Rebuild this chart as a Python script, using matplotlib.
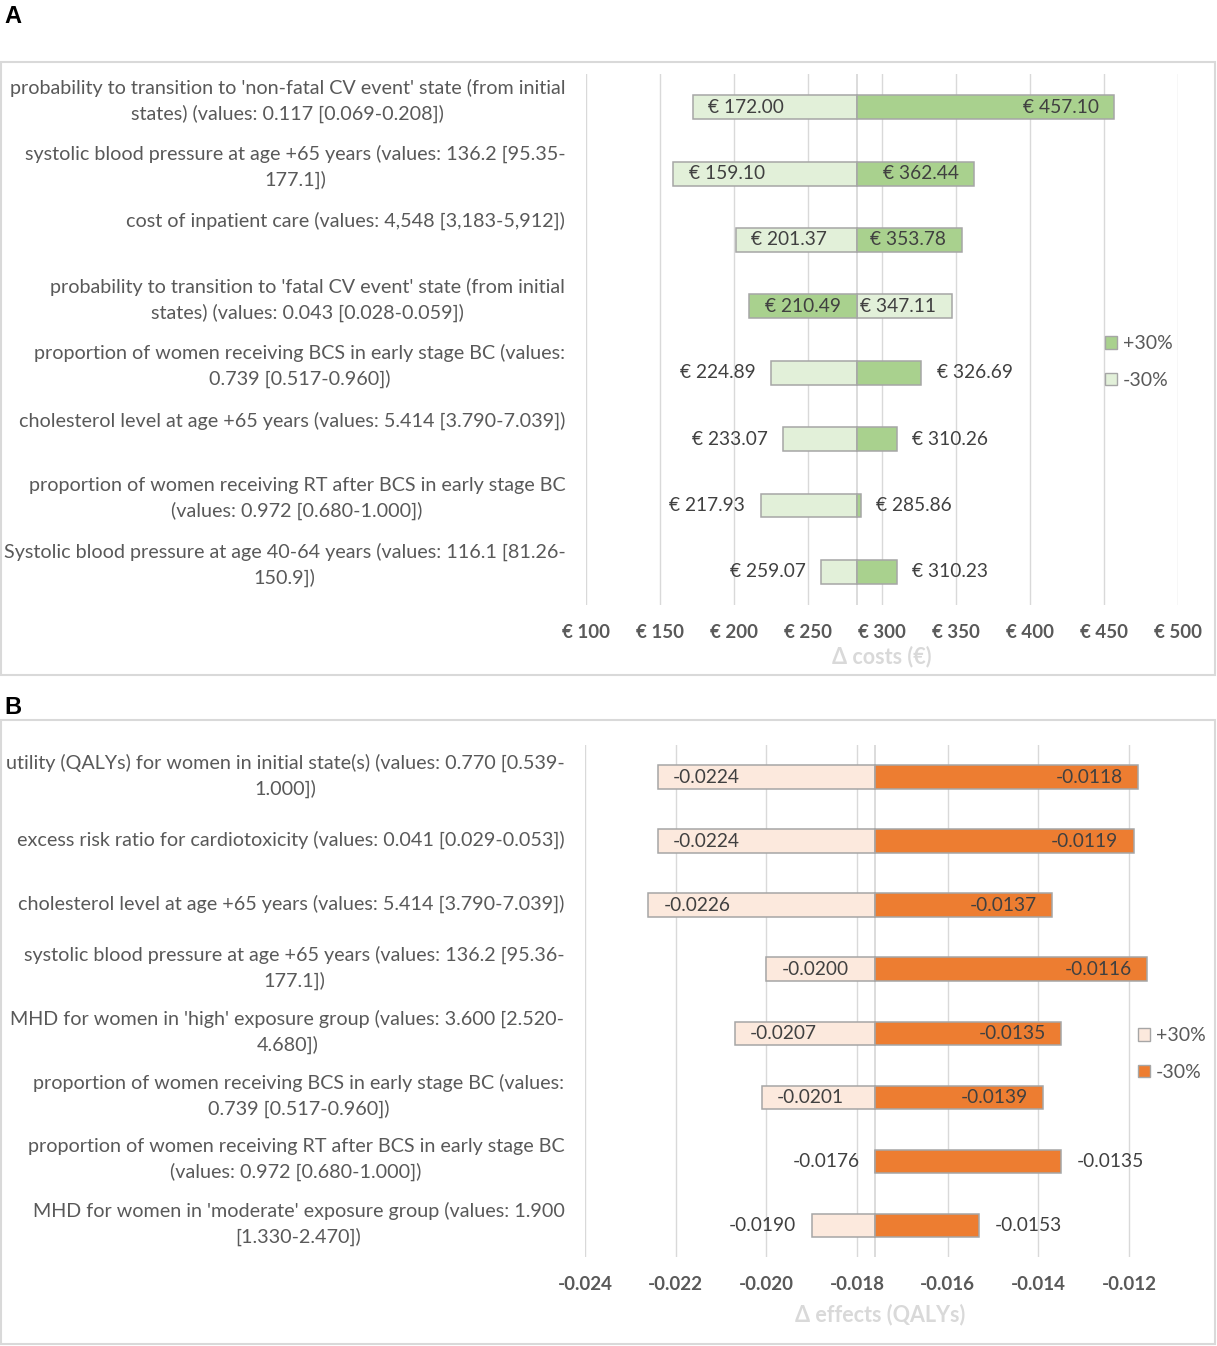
import matplotlib
matplotlib.use('Agg')
import matplotlib.pyplot as plt
from matplotlib.patches import Rectangle, Patch

plt.rcParams['font.family'] = ['Lato', 'DejaVu Sans']

# ---- panel A: delta costs ----
labels_a = [
    "probability to transition to 'non-fatal CV event' state (from initial\nstates) (values: 0.117 [0.069-0.208])",
    "systolic blood pressure at age +65 years (values: 136.2 [95.35-\n177.1])",
    "cost of inpatient care (values: 4,548 [3,183-5,912])\n",
    "probability to transition to 'fatal CV event' state (from initial\nstates) (values: 0.043 [0.028-0.059])",
    "proportion of women receiving BCS in early stage BC (values:\n0.739 [0.517-0.960])",
    "cholesterol level at age +65 years (values: 5.414 [3.790-7.039])\n",
    "proportion of women receiving RT after BCS in early stage BC\n(values: 0.972 [0.680-1.000])",
    "Systolic blood pressure at age 40-64 years (values: 116.1 [81.26-\n150.9])",
]
plus_a = [457.10, 362.44, 353.78, 210.49, 326.69, 310.26, 285.86, 310.23]
minus_a = [172.00, 159.10, 201.37, 347.11, 224.89, 233.07, 217.93, 259.07]
base_a = 283.3
ticks_a = [100, 150, 200, 250, 300, 350, 400, 450, 500]
inside_a = 4  # first n rows have labels inside the bars

# ---- panel B: delta effects ----
labels_b = [
    "utility (QALYs) for women in initial state(s) (values: 0.770 [0.539-\n1.000])",
    "excess risk ratio for cardiotoxicity (values: 0.041 [0.029-0.053])",
    "cholesterol level at age +65 years (values: 5.414 [3.790-7.039])",
    "systolic blood pressure at age +65 years (values: 136.2 [95.36-\n177.1])",
    "MHD for women in 'high' exposure group (values: 3.600 [2.520-\n4.680])",
    "proportion of women receiving BCS in early stage BC (values:\n0.739 [0.517-0.960])",
    "proportion of women receiving RT after BCS in early stage BC\n(values: 0.972 [0.680-1.000])",
    "MHD for women in 'moderate' exposure group (values: 1.900\n[1.330-2.470])",
]
plus_b = [-0.0224, -0.0224, -0.0226, -0.0200, -0.0207, -0.0201, -0.0176, -0.0190]
minus_b = [-0.0118, -0.0119, -0.0137, -0.0116, -0.0135, -0.0139, -0.0135, -0.0153]
base_b = -0.0176
ticks_b = [-0.024, -0.022, -0.020, -0.018, -0.016, -0.014, -0.012]
inside_b = 6

TXT = '#404040'
GRID = '#d9d9d9'
EDGE = '#a6a6a6'

fig = plt.figure(figsize=(12.17, 13.46), dpi=100)

# panel frames
for y0, h in [(0.4985, 0.4555), (0.0015, 0.4635)]:
    fig.patches.append(Rectangle((0.001, y0), 0.997, h, transform=fig.transFigure,
                                 fill=False, edgecolor=GRID, lw=1.5))
fig.text(0.004, 0.988, 'A', fontsize=17, fontweight='bold', family='Liberation Sans', va='center')
fig.text(0.004, 0.474, 'B', fontsize=17, fontweight='bold', family='Liberation Sans', va='center')


def draw_panel(ax, labels, vals1, vals2, base, col1, col2, inside, fmt, label_dy):
    n = len(labels)
    for i in range(n):
        for v, other, col in [(vals1[i], vals2[i], col1), (vals2[i], vals1[i], col2)]:
            ax.barh(i, v - base, left=base, height=0.36, color=col, edgecolor=EDGE,
                    lw=1.1, zorder=3)
            right = v > other
            if i < inside:
                ha = 'right' if right else 'left'
                off = -11 if right else 11
            else:
                ha = 'left' if right else 'right'
                off = 11 if right else -11
            ax.annotate(fmt(v), (v, i), xytext=(off, 0), textcoords='offset points',
                        ha=ha, va='center', fontsize=13.8, color=TXT, zorder=4)
        ax.text(-0.035, i - label_dy, labels[i], transform=ax.get_yaxis_transform(),
                ha='right', va='center', multialignment='center', fontsize=14.2,
                color='#595959', linespacing=1.5)
    ax.axvline(base, color=GRID, lw=1.3, zorder=2)
    ax.set_ylim(n - 0.5, -0.5)
    ax.set_yticks([])
    ax.grid(axis='x', color=GRID, lw=1, zorder=0)
    for s in ax.spines.values():
        s.set_visible(False)
    ax.tick_params(axis='x', length=0, pad=14, labelsize=13.5, labelcolor='#595959')
    for t in ax.get_xticklabels():
        t.set_fontweight('bold')


# panel A
ax1 = fig.add_axes([0.4815, 0.5505, 0.4864, 0.3945])
ax1.set_xlim(ticks_a[0], ticks_a[-1])
ax1.set_xticks(ticks_a)
ax1.set_xticklabels(['€ %d' % t for t in ticks_a])
draw_panel(ax1, labels_a, minus_a, plus_a, base_a, '#e2f0d9', '#a9d18e', inside_a,
           lambda v: '€ %.2f' % v, 0.1)
ax1.set_xlabel('Δ costs (€)', fontsize=15.5, fontweight='bold', color=GRID, labelpad=3)
ax1.legend(handles=[Patch(facecolor='#a9d18e', edgecolor=EDGE, label='+30%'),
                    Patch(facecolor='#e2f0d9', edgecolor=EDGE, label='-30%')],
           loc='center left', bbox_to_anchor=(0.894, 0.731), bbox_transform=fig.transFigure,
           frameon=False, fontsize=14, labelcolor='#595959', handlelength=0.6,
           handleheight=0.6, handletextpad=0.3, labelspacing=1.0)

# panel B (axis runs a little past the last tick, bars overshoot it)
ax2 = fig.add_axes([0.4807, 0.0661, 0.4843, 0.3804])
ax2.set_xlim(ticks_b[0], -0.011)
ax2.set_xticks(ticks_b)
ax2.set_xticklabels(['%.3f' % t for t in ticks_b])
draw_panel(ax2, labels_b, plus_b, minus_b, base_b, '#fce9dd', '#ed7d31', inside_b,
           lambda v: '%.4f' % v, 0.02)
ax2.set_xlabel('Δ effects (QALYs)', fontsize=15.5, fontweight='bold', color=GRID, labelpad=7)
ax2.legend(handles=[Patch(facecolor='#fce9dd', edgecolor=EDGE, label='+30%'),
                    Patch(facecolor='#ed7d31', edgecolor=EDGE, label='-30%')],
           loc='center left', bbox_to_anchor=(0.921, 0.217), bbox_transform=fig.transFigure,
           frameon=False, fontsize=14, labelcolor='#595959', handlelength=0.6,
           handleheight=0.6, handletextpad=0.3, labelspacing=1.0)

fig.savefig('out.png', dpi=100)
